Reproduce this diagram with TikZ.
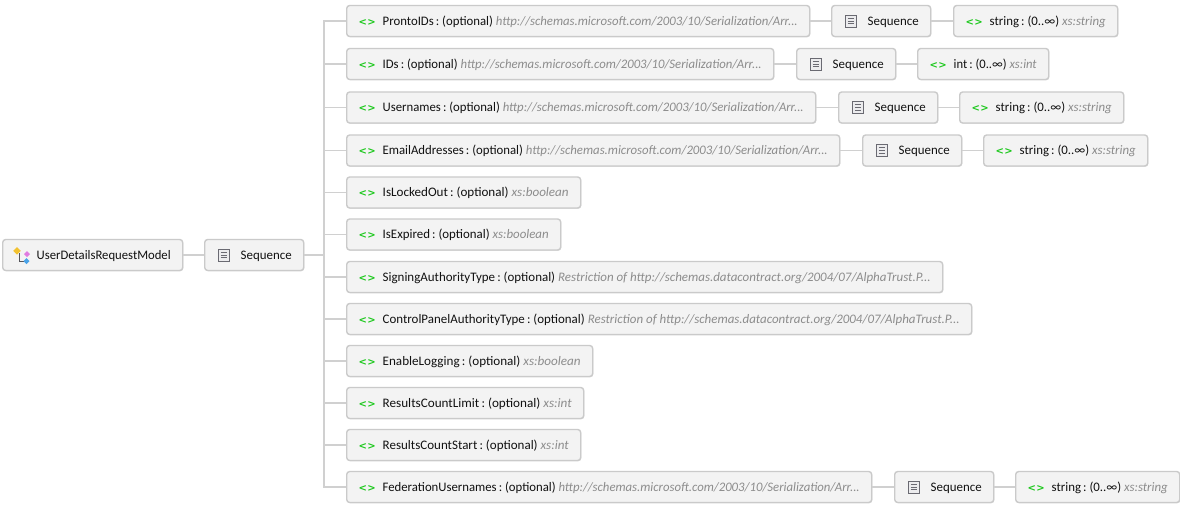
\documentclass[tikz,border=0pt]{standalone}
\usepackage{fontspec}
\usepackage{graphicx}
\setmainfont{Carlito}
\newfontfamily\chevfont{DejaVu Sans}
\usetikzlibrary{shadows}
\definecolor{boxfill}{HTML}{F3F3F3}
\definecolor{boxdraw}{HTML}{CACACA}
\definecolor{linec}{HTML}{D0D0D0}
\definecolor{grn}{HTML}{1CC81C}
\definecolor{typec}{HTML}{8C8C8C}
\definecolor{txt}{HTML}{111111}
\definecolor{icondraw}{HTML}{6A6A72}
\definecolor{iconfill}{HTML}{ECECEE}
\definecolor{icyellow}{HTML}{F2C230}
\definecolor{icpink}{HTML}{E07BE0}
\definecolor{icblue}{HTML}{4AA3E8}
\newcommand{\ang}{\makebox[24pt][l]{\color{grn}\chevfont\bfseries\fontsize{10}{10}\selectfont <\kern0.3pt>}}
\newcommand{\fit}[2]{\resizebox{\dimexpr#1pt-48pt\relax}{\height}{#2}}
\newcommand{\bx}[2]{\makebox[\dimexpr#1pt-24pt\relax][l]{#2}}
% element: width, name, type
\newcommand{\elt}[3]{\bx{#1}{\ang\fit{#1}{#2\,:\ (optional)\ {\color{typec}\itshape #3}}}}
\newcommand{\cnt}[3]{\bx{#1}{\ang\fit{#1}{#2\,:\ (0..∞)\ {\color{typec}\itshape #3}}}}
\newcommand{\plain}[2]{\bx{#1}{\hspace{24pt}\fit{#1}{#2}}}
\newcommand{\msurl}{http://schemas.microsoft.com/2003/10/Serialization/Arr...}
\newcommand{\dcurl}{Restriction of http://schemas.datacontract.org/2004/07/AlphaTrust.P...}
\begin{document}
\begin{tikzpicture}[x=1pt,y=-1pt,
  box/.style={draw=boxdraw, line width=1.4pt, fill=boxfill, rounded corners=3pt,
    minimum height=31pt, inner xsep=12pt, inner ysep=0pt, anchor=west, text=txt,
    text height=8.6pt, text depth=0pt,
    font=\fontsize{13}{15}\selectfont,
    drop shadow={shadow xshift=0.6pt, shadow yshift=-0.8pt, fill=black, opacity=0.12}},
  conn/.style={draw=linec, line width=1.6pt},
  seqicon/.pic={
    \draw[icondraw, fill=iconfill, line width=0.9pt] (14,-6) rectangle (25.5,6);
    \draw[icondraw, line width=0.9pt] (16.8,-2.6)--(22.7,-2.6) (16.8,0)--(22.7,0) (16.8,2.6)--(22.7,2.6);
  },
  classicon/.pic={
    \draw[icondraw!80!black, line width=1pt] (17,-2) -- (17,6) -- (21.5,6);
    \fill[icyellow] (15,-8) -- (18.8,-4.2) -- (15,-0.4) -- (11.2,-4.2) -- cycle;
    \fill[icpink] (25,-4) -- (28,-1) -- (25,2) -- (22,-1) -- cycle;
    \fill[icblue] (24.5,3) -- (27.5,6) -- (24.5,9) -- (21.5,6) -- cycle;
  }
]
\useasboundingbox[fill=white] (0,0) rectangle (1180,509);

% root and sequence
\node[box] (root) at (2,255) {\bx{180}{\hspace{22pt}\resizebox{134pt}{\height}{UserDetailsRequestModel}}};
\node[box] (s0) at (204,255) {\plain{99}{Sequence}};
\pic at (root.west) {classicon};
\pic at (s0.west) {seqicon};
\coordinate (j) at (324,255);

% elements
\node[box] (r1) at (346,21) {\elt{463}{ProntoIDs}{\msurl}};
\node[box] (r2) at (346,64) {\elt{427}{IDs}{\msurl}};
\node[box] (r3) at (346,107.5) {\elt{469}{Usernames}{\msurl}};
\node[box] (r4) at (346,150.5) {\elt{493}{EmailAddresses}{\msurl}};
\node[box] (r5) at (346,192.5) {\elt{234}{IsLockedOut}{xs:boolean}};
\node[box] (r6) at (346,234.5) {\elt{214}{IsExpired}{xs:boolean}};
\node[box] (r7) at (346,277) {\elt{596}{SigningAuthorityType}{\dcurl}};
\node[box] (r8) at (346,319) {\elt{625}{ControlPanelAuthorityType}{\dcurl}};
\node[box] (r9) at (346,361) {\elt{246}{EnableLogging}{xs:boolean}};
\node[box] (r10) at (346,403) {\elt{237}{ResultsCountLimit}{xs:int}};
\node[box] (r11) at (346,445) {\elt{234}{ResultsCountStart}{xs:int}};
\node[box] (r12) at (346,487) {\elt{525}{FederationUsernames}{\msurl}};

% nested sequences
\node[box] (q1) at (831,21) {\plain{99}{Sequence}};
\node[box] (q2) at (796,64) {\plain{99}{Sequence}};
\node[box] (q3) at (838,107.5) {\plain{99}{Sequence}};
\node[box] (q4) at (862,150.5) {\plain{99}{Sequence}};
\node[box] (q12) at (894,487) {\plain{99}{Sequence}};
\foreach \q in {q1,q2,q3,q4,q12} \pic at (\q.west) {seqicon};

% item types
\node[box] (t1) at (953,21) {\cnt{164}{string}{xs:string}};
\node[box] (t2) at (917,64) {\cnt{131}{int}{xs:int}};
\node[box] (t3) at (959,107.5) {\cnt{164}{string}{xs:string}};
\node[box] (t4) at (983,150.5) {\cnt{164}{string}{xs:string}};
\node[box] (t12) at (1015,487) {\cnt{164}{string}{xs:string}};

% connectors
\draw[conn] (root.east) -- (s0.west);
\draw[conn] (s0.east) -- (j);
\draw[conn, line join=miter] (r1.west) -- (r1.west -| j) -- (r12.west -| j) -- (r12.west);
\foreach \r in {r2,r3,r4,r5,r6,r7,r8,r9,r10,r11}
  \draw[conn] (\r.west -| j) -- (\r.west);
\foreach \a/\b in {r1/q1,r2/q2,r3/q3,r4/q4,r12/q12,q1/t1,q2/t2,q3/t3,q4/t4,q12/t12}
  \draw[conn] (\a.east) -- (\b.west);
\end{tikzpicture}
\end{document}
